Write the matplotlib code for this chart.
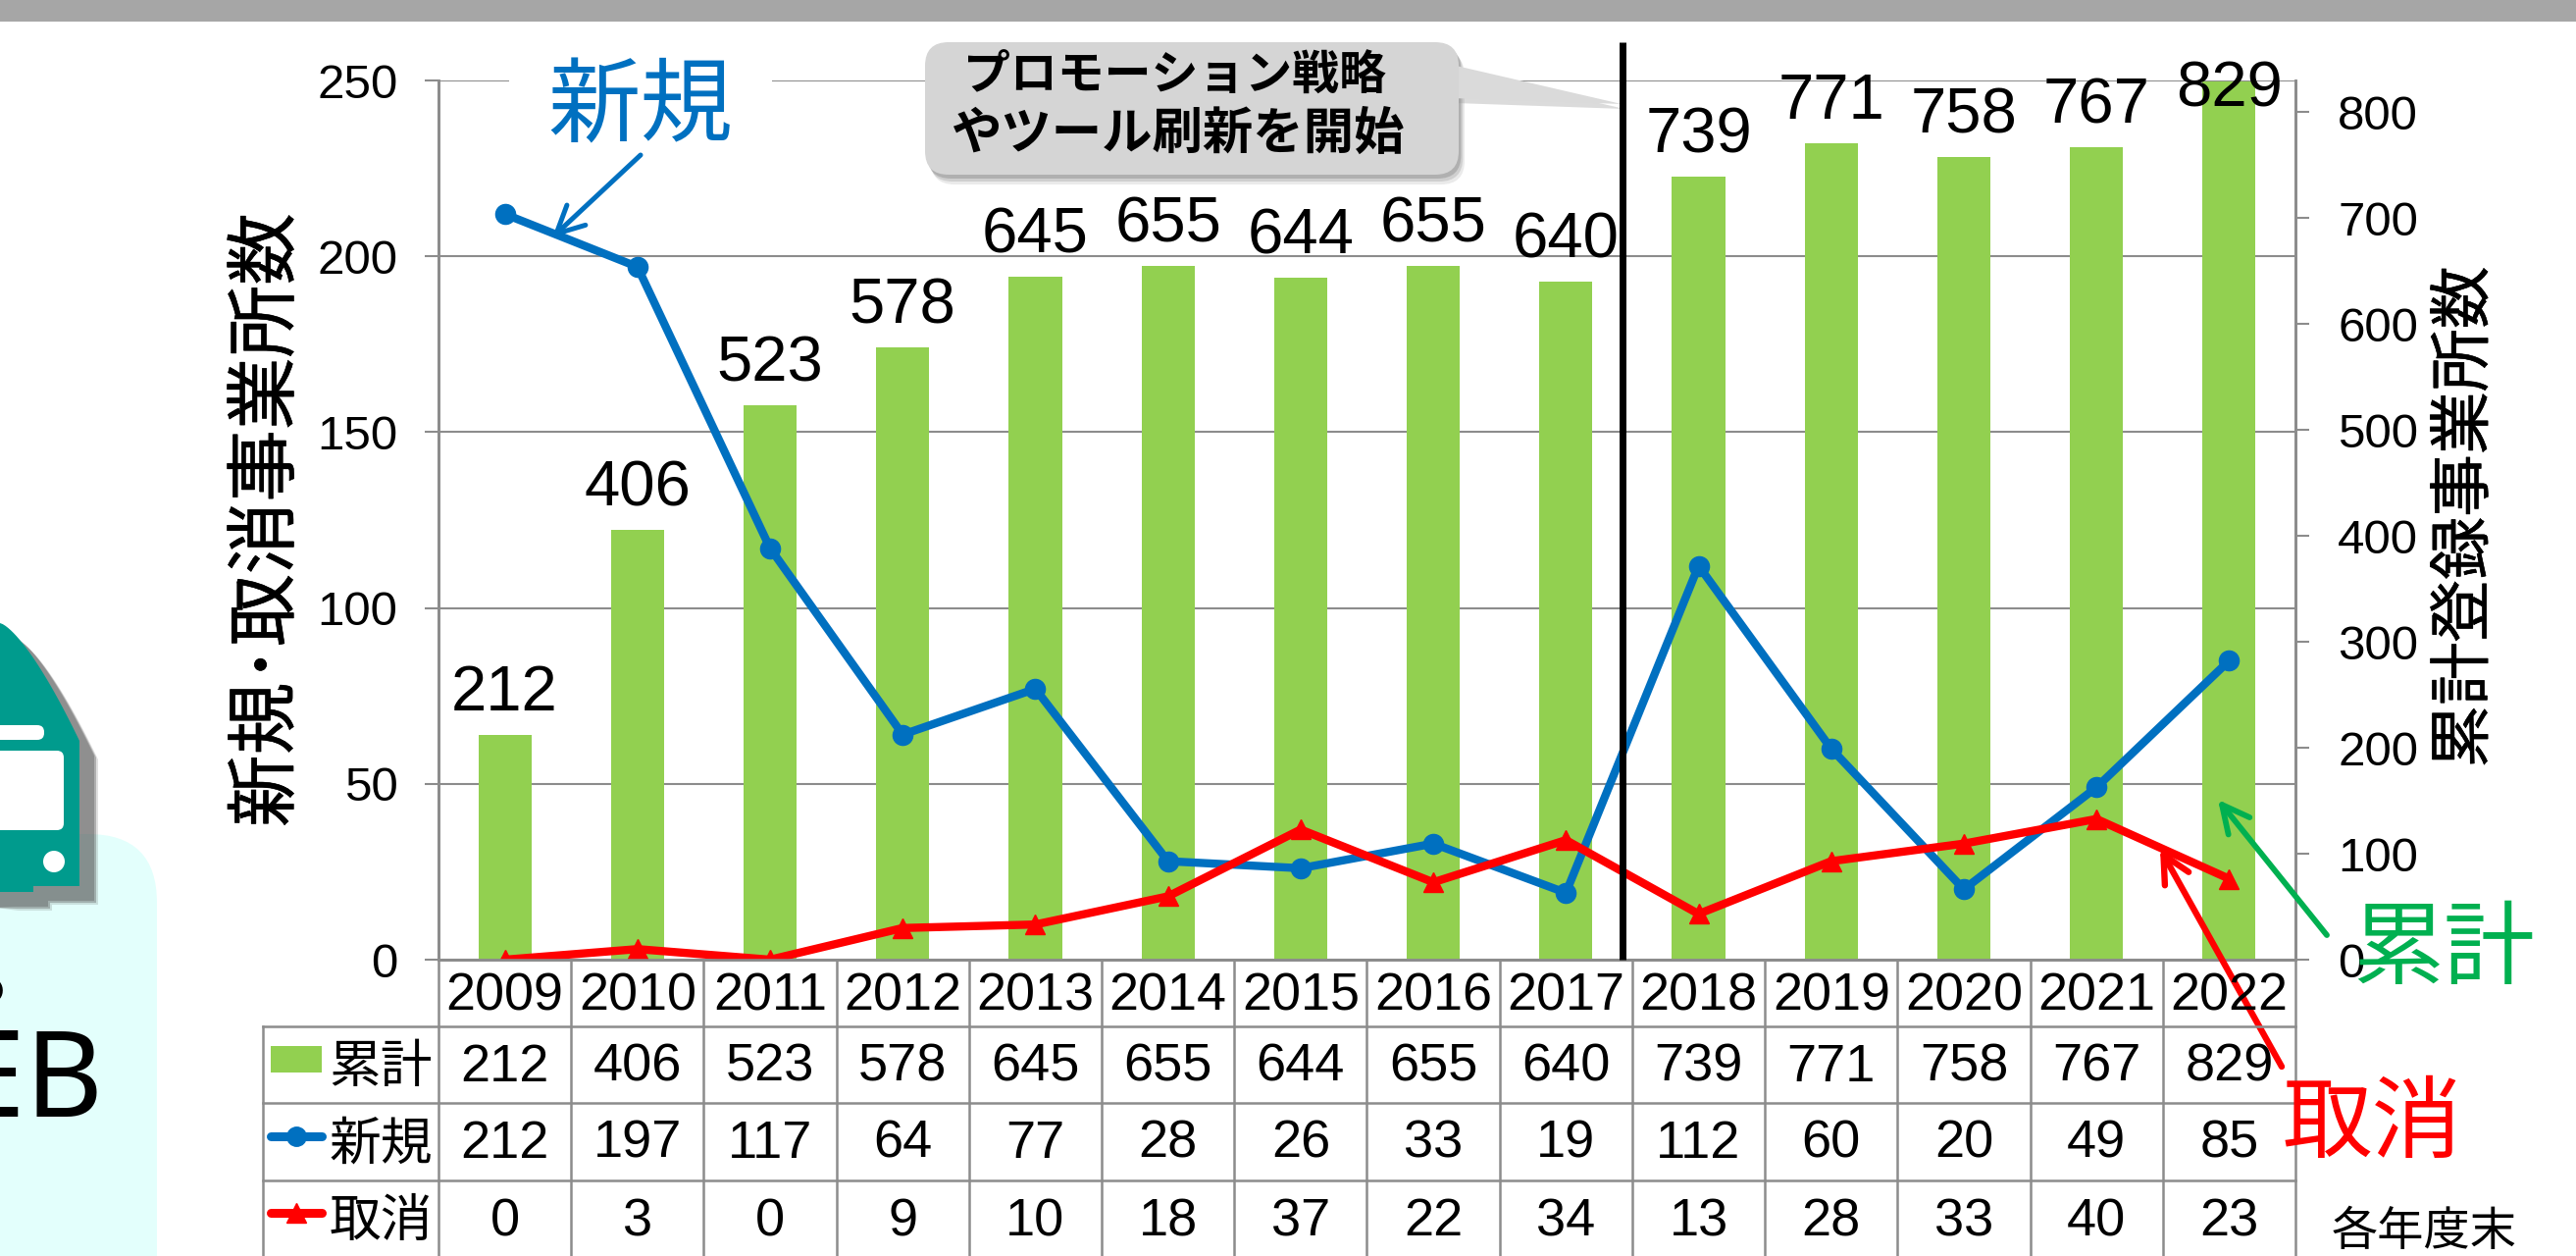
import matplotlib
matplotlib.use("Agg")
import matplotlib.pyplot as plt
import matplotlib.patheffects as pe
import matplotlib.transforms as mtrans
from matplotlib.patches import Circle, FancyArrowPatch, FancyBboxPatch, Polygon, Rectangle
import numpy as np

plt.rcParams['font.family'] = ['Liberation Sans', 'Noto Sans CJK JP', 'DejaVu Sans']

years = [2009, 2010, 2011, 2012, 2013, 2014, 2015, 2016, 2017, 2018, 2019, 2020, 2021, 2022]
total = [212, 406, 523, 578, 645, 655, 644, 655, 640, 739, 771, 758, 767, 829]
new = [212, 197, 117, 64, 77, 28, 26, 33, 19, 112, 60, 20, 49, 85]
cancel = [0, 3, 0, 9, 10, 18, 37, 22, 34, 13, 28, 33, 40, 23]

GREEN = '#92D050'
BLUE = '#0070C0'
RED = '#FF0000'
GRAY = '#8C8C8C'
W, H = 2626, 1280
L, R, T, B = 447, 2340, 82, 978  # plot area in pixels

fig = plt.figure(figsize=(W / 100, H / 100), dpi=100)


def px_axes(z):
    a = fig.add_axes([0, 0, 1, 1], zorder=z)
    a.set_xlim(0, W)
    a.set_ylim(H, 0)
    a.axis('off')
    return a


bg = px_axes(0)
over = px_axes(10)

# top band and the cut off panel on the left
bg.add_patch(Rectangle((0, 0), W, 22, color='#A6A6A6', lw=0))
bg.add_patch(FancyBboxPatch((-200, 850), 360, 500, boxstyle='round,pad=0,rounding_size=70',
                            fc='#E3FFFC', ec='none'))

# bus icon
theta = np.linspace(0, 1, 30)
dome_x = 81 * theta
dome_y = 635 + 120 * theta ** 1.4
body = list(zip(dome_x, dome_y)) + [(81, 903), (34, 903), (34, 909), (0, 909)]
for off, alpha in [(19, .18), (17, .35), (15, .35)]:
    bg.add_patch(Polygon([(x + off, y + off) for x, y in body] + [(-5, 925), (-5, 640)],
                         fc='#555555', alpha=alpha, lw=0))
bg.add_patch(Polygon(body, fc='#009B8D', lw=0))
bg.add_patch(FancyBboxPatch((-30, 739), 75, 15, boxstyle='round,pad=0,rounding_size=7', fc='white', ec='none'))
bg.add_patch(FancyBboxPatch((-30, 765), 95, 81, boxstyle='round,pad=0,rounding_size=7', fc='white', ec='none'))
bg.add_patch(Circle((55, 878), 11, fc='white', ec='none'))
bg.text(106, 1092, 'WEB', fontsize=88, ha='right', va='center_baseline', family=['Noto Sans'])
bg.text(6, 1012, 'の', fontsize=26, ha='right', va='center')

# chart axes: grid at the back, then bars, then lines
pos = [L / W, 1 - B / H, (R - L) / W, (B - T) / H]
ax = fig.add_axes(pos, zorder=1)
ax_bar = ax.twinx()
ax_bar.set_zorder(2)
ax_line = ax.twinx()
ax_line.set_zorder(3)
ax_bar.patch.set_visible(False)
ax_line.patch.set_visible(False)

x = np.arange(len(years))
ax.set_xlim(-0.5, len(years) - 0.5)
ax.set_ylim(0, 250)
ax.set_yticks(range(0, 251, 50))
ax.set_xticks([])
ax.grid(axis='y', color=GRAY, lw=1.5)
ax.set_axisbelow(True)
ax.tick_params(axis='y', labelsize=35.5, length=10, width=1.5, color=GRAY, pad=20)

ax_bar.bar(x, total, width=0.4, color=GREEN, zorder=2)
ax_bar.set_ylim(0, 830)
ax_bar.set_yticks(range(0, 801, 100))
ax_bar.tick_params(axis='y', labelsize=35.5, length=10, width=1.5, color=GRAY, pad=21)

ax_line.plot(x, new, color=BLUE, lw=6, marker='o', ms=14.5, solid_capstyle='round')
ax_line.plot(x, cancel, color=RED, lw=6, marker='^', ms=15, solid_capstyle='round')
ax_line.set_ylim(0, 250)
ax_line.set_yticks([])
ax_line.set_xlim(-0.5, len(years) - 0.5)

for a in (ax, ax_bar, ax_line):
    a.spines['top'].set_visible(False)
    for s in ('left', 'right', 'bottom'):
        a.spines[s].set_color(GRAY)
        a.spines[s].set_linewidth(1.8)

# labels over the bars
label_dy = {2022: -6}
for xi, yr, v in zip(x, years, total):
    ax_bar.annotate(str(v), (xi, v), xytext=(0, label_dy.get(yr, 30)), textcoords='offset points',
                    ha='center', va='center', fontsize=47, annotation_clip=False)

# table below the chart
tr = mtrans.blended_transform_factory(ax.transData, over.transData)
row_y = [1046, 1124, 1203, 1281]
for i in range(len(years) + 1):
    over.plot([i - 0.5, i - 0.5], [B, H], transform=tr, color=GRAY, lw=1.8, clip_on=False)
over.plot([268, 268], [row_y[0], H], color=GRAY, lw=1.8)
for y in row_y:
    over.plot([268, R], [y, y], color=GRAY, lw=1.8)
for xi, yr in zip(x, years):
    over.text(xi, 1016, str(yr), transform=tr, ha='center', va='center', fontsize=38.8)
for vals, yc in zip([total, new, cancel], [1088, 1166, 1245]):
    for xi, v in zip(x, vals):
        over.text(xi, yc, str(v), transform=tr, ha='center', va='center', fontsize=39)

# legend cells
over.add_patch(Rectangle((276, 1066), 52, 27, color=GREEN, lw=0))
over.plot([276, 328], [1158, 1158], color=BLUE, lw=6.5, solid_capstyle='round')
over.plot([302], [1158], color=BLUE, marker='o', ms=14)
over.plot([276, 328], [1236, 1236], color=RED, lw=6.5, solid_capstyle='round')
over.plot([302], [1236], color=RED, marker='^', ms=14)
for name, yc in zip(['累計', '新規', '取消'], [1089, 1168, 1246]):
    over.text(388, yc, name, ha='center', va='center', fontsize=38)

# axis titles
thick = [pe.withStroke(linewidth=0.4, foreground='black')]
over.text(274, 530, '新規･取消事業所数', rotation=90, ha='center', va='center', fontsize=53, path_effects=thick)
over.text(2514, 527, '累計登録事業所数', rotation=90, ha='center', va='center', fontsize=46, path_effects=thick)
over.text(2471, 1257, '各年度末', ha='center', va='center', fontsize=34)

# vertical divider
over.plot([1654, 1654], [43, B], color='black', lw=5, solid_capstyle='butt')

# callout
tail = [(1480, 66), (1653, 106), (1480, 100)]
for off, alpha in [(10, .12), (7, .18), (4, .25)]:
    over.add_patch(FancyBboxPatch((943 + off * .6, 43 + off), 544, 135, boxstyle='round,pad=0,rounding_size=24',
                                  fc='#555555', ec='none', alpha=alpha))
over.add_patch(Polygon([(px + 3, py + 5) for px, py in tail], fc='#999999', alpha=.35, lw=0))
over.add_patch(Polygon(tail, fc='#DADADA', lw=0))
over.add_patch(FancyBboxPatch((943, 43), 544, 135, boxstyle='round,pad=0,rounding_size=24', fc='#D5D5D5', ec='none'))
over.text(1197, 79, 'プロモーション戦略', ha='center', va='center', fontsize=34.5, fontweight='bold')
over.text(1200, 139, 'やツール刷新を開始', ha='center', va='center', fontsize=37, fontweight='bold')

# series callouts
over.add_patch(Rectangle((519, 60), 268, 50, fc='white', lw=0))
over.text(653, 113, '新規', color=BLUE, ha='center', va='center', fontsize=68)
over.text(2491, 972, '累計', color='#00B050', ha='center', va='center', fontsize=67)
over.text(2418, 1149, '取消', color=RED, ha='center', va='center', fontsize=66)
for start, end, col, lw in [((653, 158), (563, 242), BLUE, 3.6),
                            ((2372, 953), (2261, 815), '#00B050', 4.2),
                            ((2326, 1087), (2202, 865), RED, 4.6)]:
    over.add_patch(FancyArrowPatch(start, end, arrowstyle='->,head_length=20,head_width=10', color=col, lw=lw,
                                   shrinkA=0, shrinkB=0, mutation_scale=1))

fig.savefig('out.png', dpi=100)
